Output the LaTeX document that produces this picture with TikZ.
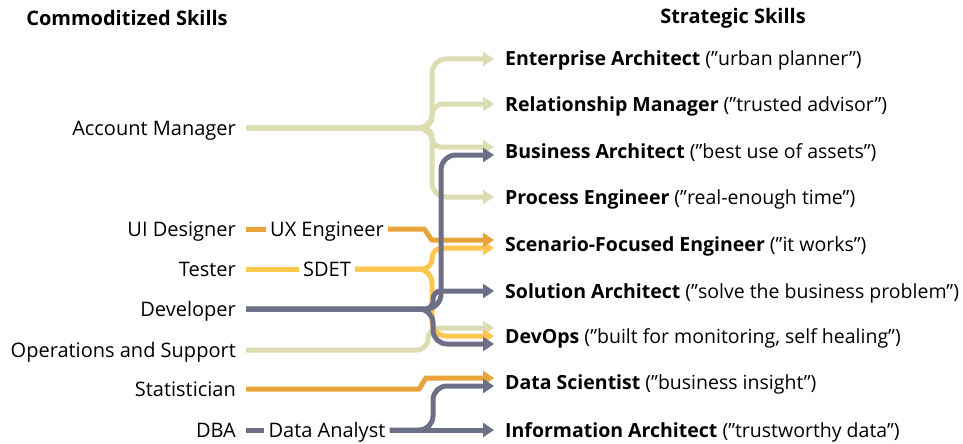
\documentclass[tikz,border=0pt]{standalone}
\usepackage{fontspec}
\setmainfont{Open Sans}
\usetikzlibrary{arrows.meta}
\tikzstyle{old}=[anchor=east,inner sep=0pt,text height=14pt,text depth=0pt]
\tikzstyle{new}=[anchor=west,inner sep=0pt,text height=14pt,text depth=0pt,font=\fontsize{19.5}{23}\selectfont]
\tikzstyle{mid}=[inner xsep=4pt,inner ysep=0pt,text height=14pt,text depth=0pt]
\tikzstyle{head}=[font=\fontsize{20}{24}\selectfont\bfseries]
\tikzstyle{flow}=[line width=5pt,rounded corners=14pt]
\definecolor{kh}{RGB}{221,221,180}
\definecolor{or}{RGB}{233,163,59}
\definecolor{ye}{RGB}{255,199,80}
\definecolor{gr}{RGB}{108,111,134}

\begin{document}
\begin{tikzpicture}[x=1pt,y=-1pt,>={Triangle[length=11pt,width=14pt]},every node/.style={font=\fontsize{20}{24}\selectfont}]
	\useasboundingbox (0,0) rectangle (963,444);
	\node[head] (hl) at (127,18) {Commoditized Skills};
	\node[head] (hr) at (733,18) {Strategic Skills};

	\node[old] (am) at (236,128) {Account Manager};
	\node[old] (ui) at (236,229) {UI Designer};
	\node[old] (te) at (236,269) {Tester};
	\node[old] (dev) at (236,309) {Developer};
	\node[old] (ops) at (236,350) {Operations and Support};
	\node[old] (st) at (236,389) {Statistician};
	\node[old] (dba) at (236,430) {DBA};

	\node[mid] (ux) at (327,229) {UX Engineer};
	\node[mid] (sdet) at (327,269) {SDET};
	\node[mid] (da) at (327,430) {Data Analyst};

	\node[new] (ea) at (505,59) {\textbf{Enterprise Architect} (”urban planner”)};
	\node[new] (rm) at (505,104) {\textbf{Relationship Manager} (”trusted advisor”)};
	\node[new] (ba) at (505,151) {\textbf{Business Architect} (”best use of assets”)};
	\node[new] (pe) at (505,197) {\textbf{Process Engineer} (”real-enough time”)};
	\node[new] (sfe) at (505,244) {\textbf{Scenario-Focused Engineer} (”it works”)};
	\node[new] (sa) at (505,291) {\textbf{Solution Architect} (”solve the business problem”)};
	\node[new] (dvo) at (505,336) {\textbf{DevOps} (”built for monitoring, self healing”)};
	\node[new] (dsc) at (505,382) {\textbf{Data Scientist} (”business insight”)};
	\node[new] (ia) at (505,430) {\textbf{Information Architect} (”trustworthy data”)};

	% account manager and operations
	\draw[flow,kh,->] ([xshift=10pt]am.east) -- (432,128) |- ([xshift=-11pt]ea.west);
	\draw[flow,kh,->,rounded corners=11pt] ([xshift=10pt]am.east) -- (432,128) |- ([xshift=-11pt]rm.west);
	\draw[flow,kh,->,rounded corners=9pt] ([xshift=10pt]am.east) -- (432,128) |- ([xshift=-11pt,yshift=4pt]ba.west);
	\draw[flow,kh,->] ([xshift=10pt]am.east) -- (432,128) |- ([xshift=-11pt]pe.west);
	\draw[flow,kh,->,rounded corners=11pt] ([xshift=10pt]ops.east) -- (428,350) |- ([xshift=-11pt,yshift=8pt]dvo.west);

	% tester
	\draw[flow,ye] ([xshift=10pt]te.east) -- (sdet.west);
	\draw[flow,ye,->,rounded corners=10pt] (sdet.east) -- (432,269) |- ([xshift=-11pt,yshift=-4pt]sfe.west);
	\draw[flow,ye,->] (sdet.east) -- (432,269) |- ([xshift=-11pt]dvo.west);

	% ui designer and statistician
	\draw[flow,or] ([xshift=10pt]ui.east) -- (ux.west);
	\draw[flow,or,->] (ux.east) -- (410,229) to[out=0,in=180] (446,240) -- ([xshift=-11pt,yshift=4pt]sfe.west);
	\draw[flow,or,->] ([xshift=10pt]st.east) -- (405,389) to[out=0,in=180] (440,378) -- ([xshift=-11pt,yshift=4pt]dsc.west);

	% developer and dba
	\draw[flow,gr,->,rounded corners=15pt] ([xshift=10pt]dev.east) -- (441,309) |- ([xshift=-11pt,yshift=-4pt]ba.west);
	\draw[flow,gr,->,rounded corners=8pt] ([xshift=10pt]dev.east) -- (433,309) |- ([xshift=-11pt]sa.west);
	\draw[flow,gr,->] ([xshift=10pt]dev.east) -- (433,309) |- ([xshift=-11pt,yshift=-8pt]dvo.west);
	\draw[flow,gr] ([xshift=10pt]dba.east) -- (da.west);
	\draw[flow,gr,->] (da.east) -- ([xshift=-11pt]ia.west);
	\draw[flow,gr,->] (da.east) -- (433,430) |- ([xshift=-11pt,yshift=-4pt]dsc.west);
\end{tikzpicture}
\end{document}
